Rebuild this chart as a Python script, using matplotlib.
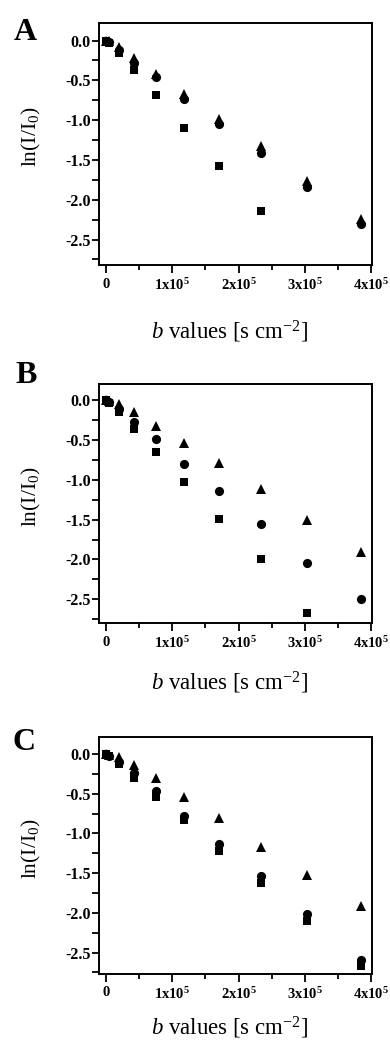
import matplotlib
matplotlib.use("Agg")
import matplotlib.pyplot as plt
from matplotlib.ticker import MultipleLocator, FixedLocator

plt.rcParams['font.family'] = ['Liberation Serif', 'DejaVu Serif']
plt.rcParams['mathtext.fontset'] = 'custom'
plt.rcParams['mathtext.rm'] = 'Liberation Serif'
plt.rcParams['mathtext.it'] = 'Liberation Serif:italic'
plt.rcParams['mathtext.bf'] = 'Liberation Serif:bold'
plt.rcParams['mathtext.default'] = 'regular'
plt.rcParams['axes.unicode_minus'] = False

# b values [s cm^-2]
b_values = [0, 4800, 19000, 43000, 76000, 118000, 171000, 233000, 303000, 385000]

# Panel A
A_squares = [0, -0.03, -0.16, -0.37, -0.68, -1.10, -1.58, -2.14]
A_circles = [0, -0.02, -0.12, -0.28, -0.455, -0.74, -1.05, -1.415, -1.835, -2.31]
A_triangles = [0, -0.01, -0.08, -0.22, -0.42, -0.67, -0.98, -1.33, -1.77, -2.24]

# Panel B
B_squares = [0, -0.03, -0.15, -0.36, -0.65, -1.03, -1.49, -1.99, -2.68]
B_circles = [0, -0.02, -0.11, -0.27, -0.485, -0.80, -1.14, -1.55, -2.05, -2.495]
B_triangles = [0, -0.01, -0.05, -0.145, -0.32, -0.53, -0.79, -1.11, -1.51, -1.905]

# Panel C
C_squares = [0, -0.03, -0.13, -0.30, -0.536, -0.83, -1.217, -1.63, -2.10, -2.67]
C_circles = [0, -0.02, -0.10, -0.24, -0.468, -0.78, -1.13, -1.54, -2.01, -2.59]
C_triangles = [0, -0.01, -0.04, -0.14, -0.308, -0.54, -0.80, -1.17, -1.52, -1.92]

panel_letters = ['A', 'B', 'C']
x_tick_values = [0, 100000, 200000, 300000, 400000]
x_tick_labels = ['0', '1x10$^5$', '2x10$^5$', '3x10$^5$', '4x10$^5$']
y_tick_values = [0.0, -0.5, -1.0, -1.5, -2.0, -2.5]
y_tick_labels = ['0.0', '-0.5', '-1.0', '-1.5', '-2.0', '-2.5']

panels = [
    (A_squares, A_circles, A_triangles),
    (B_squares, B_circles, B_triangles),
    (C_squares, C_circles, C_triangles),
]

W, H = 390, 1049
fig = plt.figure(figsize=(W / 100, H / 100), dpi=100)

# axes boxes in pixels: (left, top, right, bottom)
boxes = [(99, 23, 372, 265), (99, 384, 372, 623), (99, 737, 372, 974)]
ylims = [(-2.82, 0.22), (-2.80, 0.207), (-2.77, 0.214)]
letter_pos = [(14, 40), (15, 383), (12, 750)]
xlabel_y = [-0.222, -0.197, -0.172]

for (sq, ci, tr), box, yl, letter, lp, xly in zip(panels, boxes, ylims, panel_letters,
                                                 letter_pos, xlabel_y):
    l, t, r, bt = box
    ax = fig.add_axes([l / W, 1 - bt / H, (r - l) / W, (bt - t) / H])
    ax.plot(b_values[:len(sq)], sq, 's', color='black', ms=5.8, mew=0)
    ax.plot(b_values[:len(ci)], ci, 'o', color='black', ms=6.6, mew=0)
    ax.plot(b_values[:len(tr)], tr, '^', color='black', ms=7.4, mew=0)
    ax.set_xlim(-10500, 401000)
    ax.set_ylim(*yl)

    ax.xaxis.set_major_locator(FixedLocator(x_tick_values))
    ax.set_xticklabels(x_tick_labels)
    ax.xaxis.set_minor_locator(MultipleLocator(50000))
    ax.yaxis.set_major_locator(FixedLocator(y_tick_values))
    ax.set_yticklabels(y_tick_labels)
    ax.yaxis.set_minor_locator(MultipleLocator(0.25))

    ax.tick_params(axis='x', which='major', direction='out', length=5.5, width=1.3,
                   labelsize=10.5, pad=3.5)
    ax.tick_params(axis='x', which='minor', direction='out', length=3.5, width=1.3)
    ax.tick_params(axis='y', which='major', direction='out', length=5, width=1.3,
                   labelsize=11.5, pad=1.0)
    ax.tick_params(axis='y', which='minor', direction='out', length=5, width=1.3)
    for lab in ax.get_xticklabels() + ax.get_yticklabels():
        lab.set_fontweight('bold')
    for s in ax.spines.values():
        s.set_linewidth(1.4)

    ax.set_xlabel(r'$\mathit{b}$ values [s cm$^{-2}$]', fontsize=16.5)
    ax.xaxis.set_label_coords(0.48, xly)
    ax.set_ylabel('ln(I/I$_0$)', fontsize=15.5)
    ax.yaxis.set_label_coords(-0.205, 0.53)

    fig.text(lp[0] / W, 1 - lp[1] / H, letter, fontsize=23, fontweight='bold',
             ha='left', va='baseline')

fig.savefig('out.png', dpi=100)
